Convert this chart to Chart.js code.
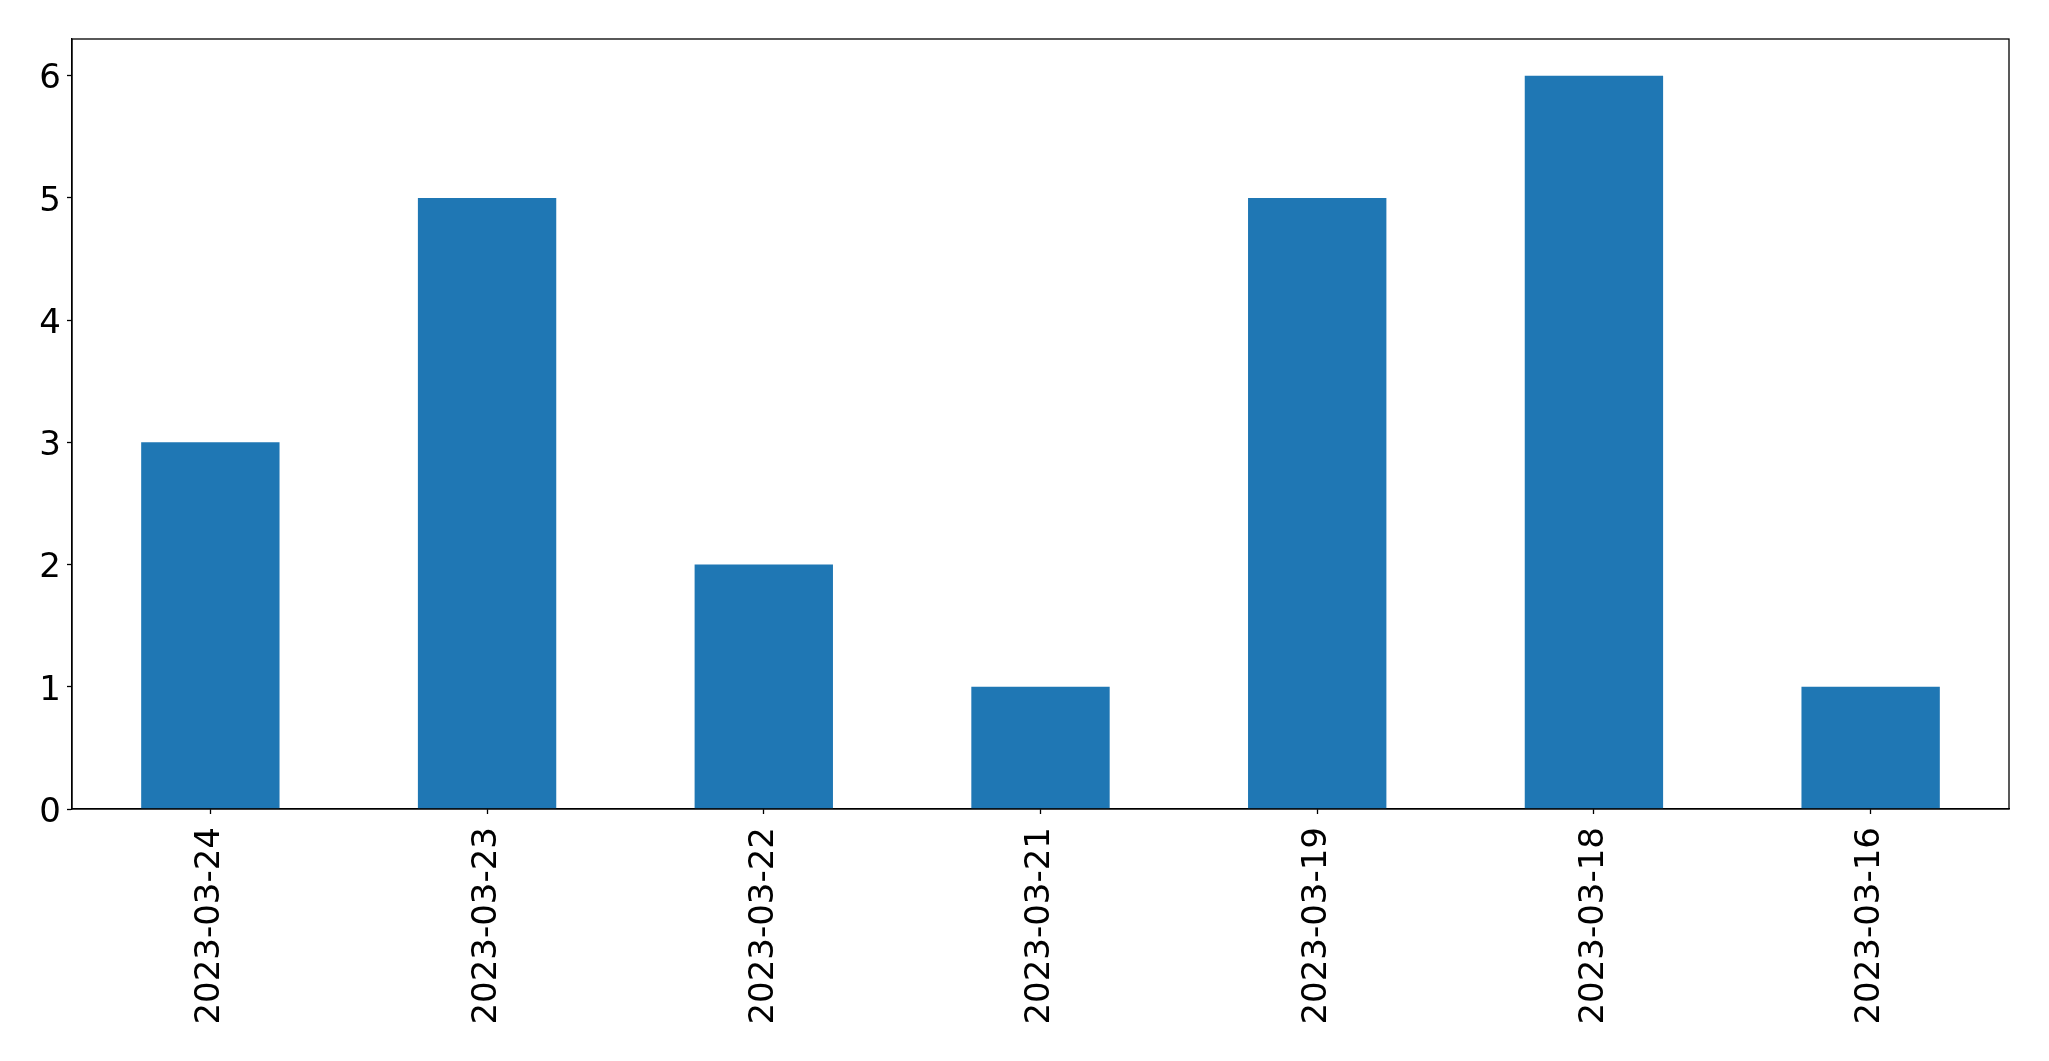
<!DOCTYPE html>
<html>
<head>
<meta charset="utf-8">
<script src="https://cdn.jsdelivr.net/npm/chart.js@4"></script>
<style>
html,body{margin:0;padding:0;background:#fff;}
#wrap{width:2049px;height:1061px;position:relative;}
</style>
</head>
<body>
<div id="wrap"><canvas id="c" width="2049" height="1061"></canvas></div>
<script>
const categories = ["2023-03-24","2023-03-23","2023-03-22","2023-03-21","2023-03-19","2023-03-18","2023-03-16"];
const values = [3,5,2,1,5,6,1];
const yTicks = [0,1,2,3,4,5,6];

const frame = {
  id: 'frame',
  afterDatasetsDraw(chart){
    const a = chart.chartArea, ctx = chart.ctx;
    ctx.save();
    ctx.strokeStyle = '#000';
    ctx.lineWidth = 1.3;
    ctx.strokeRect(a.left, a.top, a.right - a.left, a.bottom - a.top);
    ctx.restore();
  }
};

new Chart(document.getElementById('c'), {
  type: 'bar',
  data: {
    labels: categories,
    datasets: [{
      data: values,
      backgroundColor: '#1f77b4',
      borderWidth: 0,
      categoryPercentage: 1.0,
      barPercentage: 0.5
    }]
  },
  options: {
    responsive: false,
    animation: false,
    events: [],
    layout: { padding: { top: 39, right: 40, left: 0, bottom: 0 } },
    plugins: { legend: { display: false }, tooltip: { enabled: false } },
    font: { family: 'DejaVu Sans' },
    scales: {
      x: {
        offset: true,
        grid: { display: true, drawOnChartArea: false, tickLength: 5, tickColor: '#000', tickWidth: 1.3, offset: false },
        border: { display: true, color: '#000', width: 1.3 },
        ticks: { color: '#000', font: { family: 'DejaVu Sans', size: 34 }, minRotation: 90, maxRotation: 90, padding: 13, autoSkip: false },
        afterFit(s){ s.height = 1061 - 809; }
      },
      y: {
        min: 0,
        max: 6.3,
        afterBuildTicks(s){ s.ticks = yTicks.map(v => ({ value: v })); },
        grid: { display: true, drawOnChartArea: false, tickLength: 5, tickColor: '#000', tickWidth: 1.3 },
        border: { display: true, color: '#000', width: 1.3 },
        ticks: { color: '#000', font: { family: 'DejaVu Sans', size: 34 }, padding: 6, labelOffset: 4 },
        afterFit(s){ s.width = 72; }
      }
    }
  },
  plugins: [frame]
});
</script>
</body>
</html>
